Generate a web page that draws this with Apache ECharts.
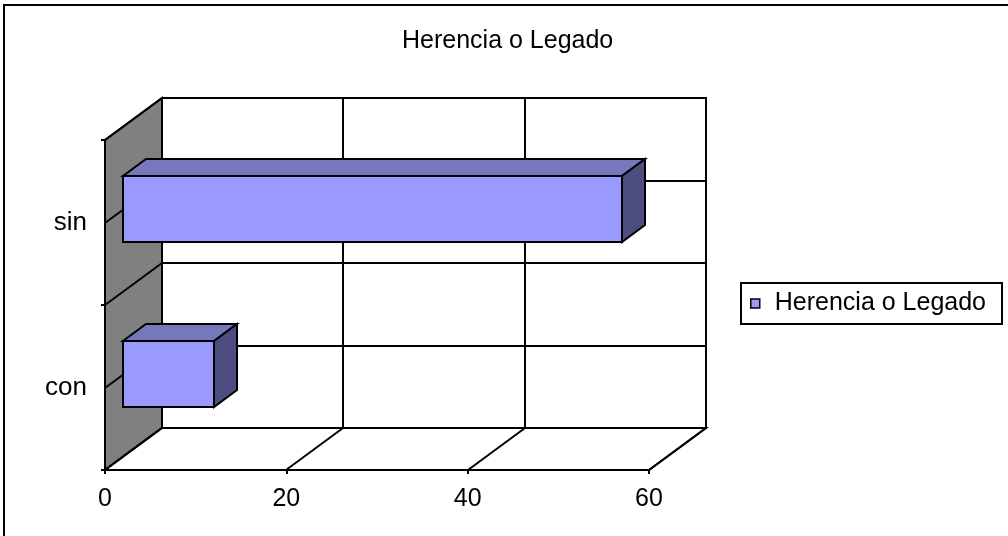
<!DOCTYPE html>
<html>
<head>
<meta charset="utf-8">
<script src="https://cdn.jsdelivr.net/npm/echarts@6/dist/echarts.min.js"></script>
<style>html,body{margin:0;padding:0;background:#fff;}#chart{width:1008px;height:536px;}</style>
</head>
<body>
<div id="chart"></div>
<script>
const titleText = 'Herencia o Legado';
const seriesName = 'Herencia o Legado';
const categories = ['con', 'sin'];
const values = [10, 55];
const xTicks = [0, 20, 40, 60];

const FONT = 'Liberation Sans, Arial, sans-serif';
const WALL_DX = 57, WALL_DY = -42;
const BAR_FRONT = 0.323, BAR_BACK = 0.718;
const R = Math.round;

function line(x1, y1, x2, y2) {
  return { type: 'line', shape: { x1: R(x1), y1: R(y1), x2: R(x2), y2: R(y2) }, style: { stroke: '#000', lineWidth: 2 } };
}
function pts(a) { return a.map(p => [R(p[0]), R(p[1])]); }

function renderWalls(params, api) {
  const cs = params.coordSys;
  const x = cs.x, y = cs.y, w = cs.width, h = cs.height;
  const dx = WALL_DX, dy = WALL_DY;
  const ch = [];
  ch.push({ type: 'rect', shape: { x: R(x + dx), y: R(y + dy), width: R(w), height: R(h) },
            style: { fill: '#fff', stroke: '#000', lineWidth: 2 } });
  xTicks.forEach(v => {
    const px = api.coord([v, 0])[0];
    ch.push(line(px + dx, y + dy, px + dx, y + h + dy));
  });
  const n = categories.length * 2;
  for (let k = 0; k <= n; k++) {
    const yk = y + k * h / n;
    ch.push(line(x + dx, yk + dy, x + w + dx, yk + dy));
  }
  ch.push({ type: 'polygon', shape: { points: pts([[x, y + h], [x, y], [x + dx, y + dy], [x + dx, y + h + dy]]) },
            style: { fill: '#808080', stroke: '#000', lineWidth: 2 } });
  for (let k = 0; k <= n; k++) {
    const yk = y + k * h / n;
    ch.push(line(x, yk, x + dx, yk + dy));
  }
  ch.push({ type: 'polygon', shape: { points: pts([[x, y + h], [x + w, y + h], [x + w + dx, y + h + dy], [x + dx, y + h + dy]]) },
            style: { fill: '#fff', stroke: '#000', lineWidth: 2 } });
  xTicks.forEach(v => {
    const px = api.coord([v, 0])[0];
    ch.push(line(px, y + h, px + dx, y + h + dy));
  });
  return { type: 'group', children: ch };
}

function renderBar(params, api) {
  const v = api.value(0);
  const ci = api.value(1);
  const p0 = api.coord([0, ci]);
  const p1 = api.coord([v, ci]);
  const band = api.size([0, 1])[1];
  const bh = R(band * 0.4);
  const fx = WALL_DX * BAR_FRONT, fy = WALL_DY * BAR_FRONT;
  const ddx = R(WALL_DX * (BAR_BACK - BAR_FRONT)), ddy = R(WALL_DY * (BAR_BACK - BAR_FRONT));
  const top = R(p0[1] - bh / 2 + fy), bot = top + bh;
  const xl = R(p0[0] + fx), xr = R(p1[0] + fx);
  const st = (fill) => ({ fill, stroke: '#000', lineWidth: 2, lineJoin: 'miter' });
  return { type: 'group', children: [
    { type: 'polygon', shape: { points: [[xl, top], [xr, top], [xr + ddx, top + ddy], [xl + ddx, top + ddy]] }, style: st('#7777BB') },
    { type: 'polygon', shape: { points: [[xr, top], [xr + ddx, top + ddy], [xr + ddx, bot + ddy], [xr, bot]] }, style: st('#4D4D80') },
    { type: 'rect', shape: { x: xl, y: top, width: xr - xl, height: bh }, style: st('#9999FF') }
  ] };
}

const chart = echarts.init(document.getElementById('chart'), null, { renderer: 'canvas' });
chart.setOption({
  backgroundColor: '#fff',
  animation: false,
  textStyle: { fontFamily: FONT },
  title: {
    text: titleText, left: 397, top: 24,
    textStyle: { fontFamily: FONT, fontSize: 25, fontWeight: 'normal', color: '#000' }
  },
  graphic: [{ type: 'rect', shape: { x: 4, y: 5, width: 1100, height: 600 }, style: { fill: null, stroke: '#000', lineWidth: 2 } }],
  legend: {
    data: [seriesName], left: 741, top: 283, orient: 'vertical',
    backgroundColor: '#fff', borderColor: '#000', borderWidth: 2, borderRadius: 0,
    padding: [8, 16, 8, 9],
    icon: 'rect', itemWidth: 9, itemHeight: 9,
    itemStyle: { color: '#9999FF', borderColor: '#000', borderWidth: 1.5 },
    textStyle: { fontFamily: FONT, fontSize: 25, color: '#000', padding: [0, 0, 0, 10] }
  },
  grid: { left: 105, top: 140, width: 544, height: 330, containLabel: false },
  xAxis: {
    type: 'value', min: 0, max: 60, interval: 20,
    axisLine: { show: true, lineStyle: { color: '#000', width: 2 } },
    axisTick: { show: true, length: 4, lineStyle: { color: '#000', width: 2 } },
    axisLabel: { margin: 17, fontFamily: FONT, fontSize: 25, color: '#000' },
    splitLine: { show: false }
  },
  yAxis: {
    type: 'category', data: categories,
    axisLine: { show: true, lineStyle: { color: '#000', width: 2 } },
    axisTick: { show: true, length: 4, lineStyle: { color: '#000', width: 2 } },
    axisLabel: { margin: 18, fontFamily: FONT, fontSize: 26, color: '#000' },
    splitLine: { show: false }
  },
  series: [
    { type: 'custom', name: 'walls', renderItem: renderWalls, data: [[0, 0]], encode: { x: 0, y: 1 }, clip: false, z: 1, silent: true },
    { type: 'custom', name: seriesName, renderItem: renderBar, data: values.map((v, i) => [v, i]), encode: { x: 0, y: 1 },
      itemStyle: { color: '#9999FF', borderColor: '#000' }, clip: false, z: 3 }
  ]
});
</script>
</body>
</html>
